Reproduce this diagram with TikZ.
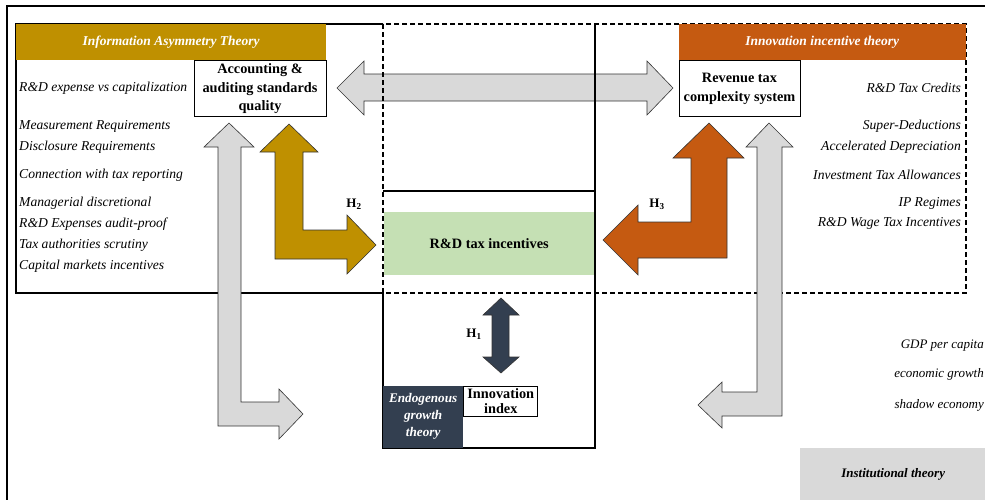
\documentclass[tikz,border=0pt]{standalone}
\usepackage{fontspec}
\setmainfont{Liberation Serif}
\usetikzlibrary{positioning}
\definecolor{mygold}{RGB}{191,144,0}
\definecolor{myorange}{RGB}{197,90,17}
\definecolor{mynavy}{RGB}{51,63,80}
\definecolor{mygreen}{RGB}{197,224,180}
\definecolor{mygray}{RGB}{217,217,217}

\begin{document}
\begin{tikzpicture}[x=1pt,y=-1pt,
    item/.style={inner sep=0pt,font=\fontsize{13.6}{15}\selectfont\itshape},
    hdr/.style={inner sep=0pt,text=white,font=\fontsize{13.5}{15}\selectfont\bfseries\itshape},
    box/.style={draw,line width=0.8pt,fill=white,align=center,inner sep=1pt,
      font=\fontsize{14.3}{18.5}\selectfont\bfseries},
    blk/.style={draw=black!80,line width=0.6pt}]
  \useasboundingbox (0,0) rectangle (985,499);
  \draw[line width=1.2pt] (7,510) -- (7,6) -- (995,6);

  % horizontal link between the two theory boxes
  \draw[blk,fill=mygray] (337,88) -- (364,61) -- (364,74) -- (647,74) -- (647,61)
    -- (673,88) -- (647,115) -- (647,101) -- (364,101) -- (364,115) -- cycle;

  \node[fill=mygreen,minimum width=211pt,minimum height=63pt,anchor=north west,
    font=\fontsize{14.3}{16}\selectfont\bfseries] (rdt) at (383.5,212) {R\&D tax incentives};

  % frames
  \draw[line width=1.1pt] (383,24) -- (16,24) -- (16,293) -- (383,293);
  \draw[dash pattern=on 5pt off 3pt,line width=1.1pt] (383,24) rectangle (966,293);
  \draw[line width=1.1pt] (595,24) -- (595,448) -- (383,448) -- (383,293);
  \draw[line width=1.1pt] (383,191) -- (595,191);

  \node[hdr,fill=mygold,minimum width=310pt,minimum height=36pt,anchor=north west]
    (iat) at (16,24) {Information Asymmetry Theory};
  \node[box,minimum width=132pt,minimum height=56pt,anchor=north east]
    (acc) at (iat.south east) {Accounting \&\\auditing standards\\quality};
  \node[hdr,fill=myorange,minimum width=287pt,minimum height=36pt,anchor=north east]
    (iit) at (966,24) {Innovation incentive theory};
  \node[box,minimum width=121pt,minimum height=56pt,anchor=north west]
    (rev) at (iit.south west) {Revenue tax\\complexity system};

  \node[hdr,fill=mynavy,minimum width=80pt,minimum height=62pt,anchor=south west,
    align=center,font=\fontsize{13.2}{17}\selectfont\bfseries\itshape]
    (endo) at (383,448) {Endogenous\\growth\\theory};
  \node[box,minimum width=74pt,minimum height=30pt,anchor=north west,inner sep=0.5pt,
    font=\fontsize{14.3}{14.5}\selectfont\bfseries] (inno) at (endo.north east) {Innovation\\index};

  \node[fill=mygray,minimum width=186pt,minimum height=52pt,anchor=north west,
    font=\fontsize{13}{15}\selectfont\bfseries\itshape] (inst) at (800,448) {Institutional theory};

  % block arrows
  \draw[blk,fill=mygray] (229,123) -- (254,147) -- (241,147) -- (241,402) -- (279,402)
    -- (279,389) -- (303,414) -- (279,439) -- (279,426) -- (218,426) -- (218,147)
    -- (204,147) -- cycle;
  \draw[blk,fill=mygold] (289,124) -- (318,152) -- (303,152) -- (303,230) -- (347,230)
    -- (347,215) -- (376,245) -- (347,274) -- (347,259) -- (275,259) -- (275,152)
    -- (260,152) -- cycle;
  \draw[blk,fill=myorange] (709,123) -- (744,158) -- (727,158) -- (727,258) -- (638,258)
    -- (638,275) -- (603,240) -- (638,205) -- (638,222) -- (691,222) -- (691,158)
    -- (673,158) -- cycle;
  \draw[blk,fill=mygray] (769,123) -- (793,147) -- (782,147) -- (782,416) -- (722,416)
    -- (722,428) -- (698,405) -- (722,382) -- (722,392) -- (757,392) -- (757,147)
    -- (746,147) -- cycle;
  \draw[blk,fill=mynavy] (501,298) -- (519,315) -- (509,315) -- (509,357) -- (519,357)
    -- (501,373) -- (483,357) -- (492,357) -- (492,315) -- (483,315) -- cycle;

  \node[font=\fontsize{13}{14}\selectfont] (h1) at (474,334) {\textbf{H\textsubscript{1}}};
  \node[font=\fontsize{13}{14}\selectfont] (h2) at (354,204) {\textbf{H\textsubscript{2}}};
  \node[font=\fontsize{13}{14}\selectfont] (h3) at (657,204) {\textbf{H\textsubscript{3}}};

  % item lists
  \foreach \y/\t [count=\i] in {88/R\&D expense vs capitalization,126/Measurement Requirements,
      147/Disclosure Requirements,175/Connection with tax reporting,203/Managerial discretional,
      224/R\&D Expenses audit-proof,245/Tax authorities scrutiny,266/Capital markets incentives}
    \node[item,anchor=west] (lft\i) at (19,\y) {\t};
  \foreach \y/\t [count=\i] in {88/R\&D Tax Credits,126/Super-Deductions,
      147/Accelerated Depreciation,175/Investment Tax Allowances,203/IP Regimes,
      223/R\&D Wage Tax Incentives}
    \node[item,anchor=east] (rgt\i) at (961,\y) {\t};
  \foreach \y/\t [count=\i] in {346/GDP per capita,374/economic growth,405/shadow economy}
    \node[item,anchor=east,font=\fontsize{13}{14}\selectfont\itshape] (ins\i) at (984,\y) {\t};
\end{tikzpicture}
\end{document}
